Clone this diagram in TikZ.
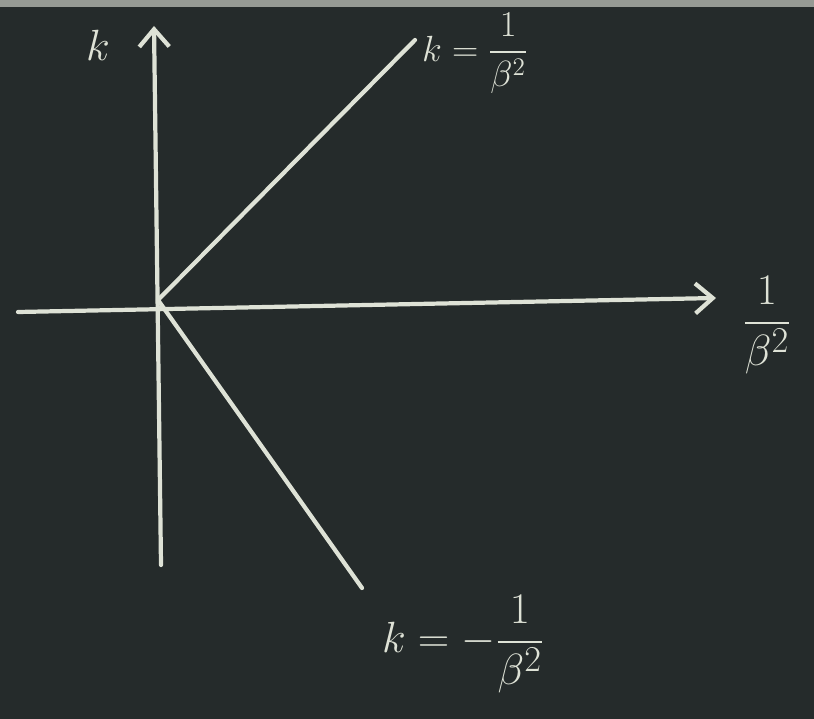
\documentclass[tikz,border=0pt]{standalone}
\usepackage{amsmath}
\usetikzlibrary{arrows.meta, positioning}

\definecolor{board}{RGB}{37,43,43}
\definecolor{boardedge}{RGB}{150,154,148}
\definecolor{chalk}{RGB}{222,226,214}

\begin{document}
\begin{tikzpicture}[
  x=0.02cm, y=-0.02cm,
  chalkline/.style={draw=chalk, line width=2.4pt, line cap=round},
  axis/.style={chalkline, -{Straight Barb[length=3.5mm, width=6mm, line width=2.4pt]}},
  lbl/.style={text=chalk, inner sep=1pt}
]

% board
\fill[board] (0,0) rectangle (814,719);
\fill[boardedge] (0,0) rectangle (814,7);
\useasboundingbox (0,0) rectangle (814,719);

% axes and lines
\coordinate (O) at (158,300);
\coordinate (xl) at (18,312);
\coordinate (xr) at (716,298);
\coordinate (yb) at (161,565);
\coordinate (yt) at (154,26);
\coordinate (up) at (415,40);
\coordinate (dn) at (362,588);

\draw[axis] (xl) -- (xr);
\draw[axis] (yb) -- (yt);
\draw[chalkline] (O) -- (up);
\draw[chalkline] (O) -- (dn);

% labels
\node[lbl, font=\fontsize{25}{30}\selectfont] (klab) at (98,45) {$k$};
\node[lbl, anchor=west, font=\fontsize{20}{24}\selectfont] (kup) at (420,53) {$k=\dfrac{1}{\beta^2}$};
\node[lbl, font=\fontsize{31}{36}\selectfont] (xlab) at (767,325) {$\dfrac{1}{\beta^2}$};
\node[lbl, anchor=west, font=\fontsize{31}{36}\selectfont] (kdn) at (380,644) {$k=-\dfrac{1}{\beta^2}$};

\end{tikzpicture}
\end{document}
